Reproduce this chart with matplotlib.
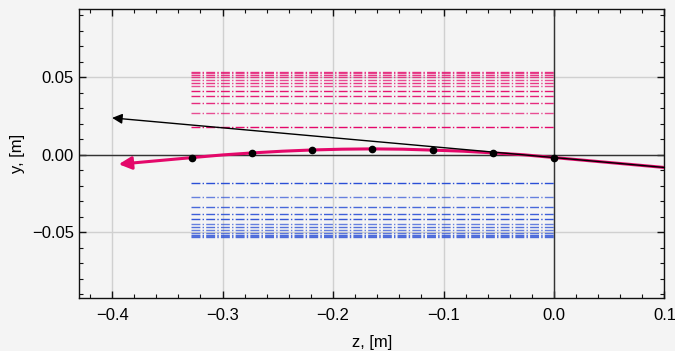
import matplotlib
matplotlib.use("Agg")
import matplotlib.pyplot as plt
from matplotlib.ticker import MultipleLocator

plt.rcParams['font.family'] = ['Liberation Sans', 'DejaVu Sans']
plt.rcParams['font.size'] = 12

# aperture line levels (|y|, m)
levels = [0.0179, 0.0273, 0.0334, 0.0381, 0.0415, 0.0445, 0.0467, 0.0486,
          0.0502, 0.0516, 0.0526, 0.0532]
level_alpha = [1.0, 0.7, 0.85, 0.9, 0.95, 0.7, 0.8, 0.7, 0.75, 0.8, 0.7, 0.8]
z_span = [-0.3285, 0.0]

# black reference ray
ray_z = [0.1, -0.40]
ray_y = [-0.0081, 0.0239]

# pink trajectory
traj_z = [0.1, 0.0, -0.0275, -0.055, -0.082, -0.1095, -0.137, -0.1645,
          -0.192, -0.2188, -0.246, -0.2731, -0.300, -0.3274]
traj_y = [-0.0081, -0.0017, 0.0001, 0.0013, 0.0024, 0.0031, 0.0037, 0.0039,
          0.0037, 0.0032, 0.0024, 0.0013, 0.0000, -0.0017]
traj_end = (-0.394, -0.0060)

# markers
mark_z = [0.0, -0.055, -0.1095, -0.1645, -0.2188, -0.2731, -0.3274]
mark_y = [-0.0017, 0.0013, 0.0031, 0.0039, 0.0032, 0.0013, -0.0017]

PINK = '#e4086a'
BLUE = '#2a4fd6'
BG = '#f4f4f4'

fig = plt.figure(figsize=(6.75, 3.51), dpi=100, facecolor=BG)
ax = fig.add_axes([0.117, 0.151, 0.8674, 0.8236])
ax.set_facecolor(BG)

ax.grid(True, color='#d0d0d0', lw=1)
ax.set_axisbelow(True)
ax.axhline(0, color='#333333', lw=1, zorder=1)
ax.axvline(0, color='#333333', lw=1, zorder=1)

for lev, a in zip(levels, level_alpha):
    ax.plot(z_span, [lev, lev], ls='-.', color=PINK, lw=1, alpha=a, zorder=2)
    ax.plot(z_span, [-lev, -lev], ls='-.', color=BLUE, lw=1, alpha=a, zorder=2)

ax.plot(traj_z, traj_y, color=PINK, lw=2.2, zorder=3)
ax.annotate('', xy=traj_end, xytext=(traj_z[-1], traj_y[-1]),
            arrowprops=dict(arrowstyle='-|>', color=PINK, lw=2.2,
                            mutation_scale=19, shrinkA=0, shrinkB=0), zorder=3)

ax.annotate('', xy=(ray_z[1], ray_y[1]), xytext=(ray_z[0], ray_y[0]),
            arrowprops=dict(arrowstyle='-|>', color='black', lw=1,
                            mutation_scale=15, shrinkA=0, shrinkB=0), zorder=4)

ax.plot(mark_z, mark_y, 'o', color='black', ms=4.5, zorder=5)

ax.set_xlim(-0.43, 0.1)
ax.set_ylim(-0.0923, 0.0942)
ax.xaxis.set_major_locator(MultipleLocator(0.1))
ax.xaxis.set_minor_locator(MultipleLocator(0.02))
ax.yaxis.set_major_locator(MultipleLocator(0.05))
ax.yaxis.set_minor_locator(MultipleLocator(0.01))
ax.xaxis.set_major_formatter(matplotlib.ticker.FuncFormatter(
    lambda v, p: ('%.1f' % (0 if abs(v) < 1e-9 else v)).replace('-', '\u2212')))
ax.yaxis.set_major_formatter(matplotlib.ticker.FuncFormatter(
    lambda v, p: ('%.2f' % (0 if abs(v) < 1e-9 else v)).replace('-', '\u2212')))
ax.tick_params(which='both', direction='in', top=True, right=True, color='#111111')
ax.tick_params(which='major', length=5, width=1, labelsize=12)
ax.tick_params(which='minor', length=3, width=0.8)
ax.tick_params(axis='x', which='major', pad=7)
for s in ax.spines.values():
    s.set_color('#111111')
    s.set_linewidth(1)

ax.set_xlabel('z, [m]', labelpad=9)
ax.set_ylabel('y, [m]', labelpad=5)

fig.savefig('out.png', dpi=100, facecolor=BG)
